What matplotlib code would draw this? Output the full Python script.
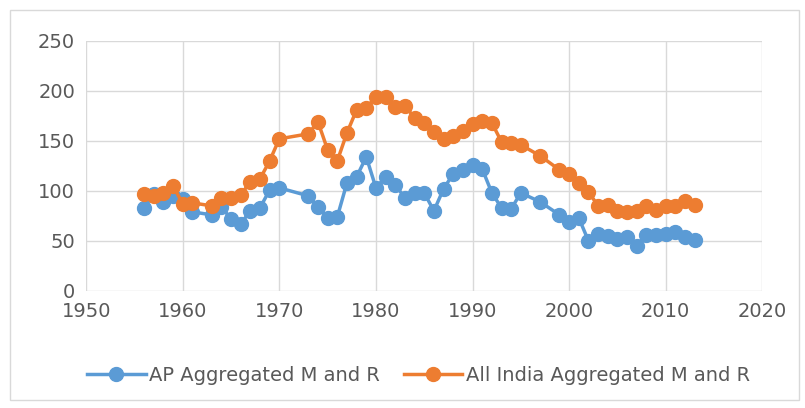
import matplotlib.pyplot as plt
from matplotlib.patches import Rectangle

# years shared by both series
years = [1956, 1957, 1958, 1959, 1960, 1961, 1963, 1964, 1965, 1966, 1967,
         1968, 1969, 1970, 1973, 1974, 1975, 1976, 1977, 1978, 1979, 1980,
         1981, 1982, 1983, 1984, 1985, 1986, 1987, 1988, 1989, 1990, 1991,
         1992, 1993, 1994, 1995, 1997, 1999, 2000, 2001, 2002, 2003, 2004,
         2005, 2006, 2007, 2008, 2009, 2010, 2011, 2012, 2013]

ap = [83, 97, 89, 95, 92, 79, 76, 84, 72, 67, 80,
      83, 101, 103, 95, 84, 73, 74, 108, 114, 134, 103,
      114, 106, 93, 98, 98, 80, 102, 117, 121, 126, 122,
      98, 83, 82, 98, 89, 76, 69, 73, 50, 57, 55,
      52, 54, 45, 56, 56, 57, 59, 54, 51]

india = [97, 95, 98, 105, 87, 88, 85, 93, 93, 96, 109,
         112, 130, 152, 157, 169, 141, 130, 158, 181, 183, 194,
         194, 184, 185, 173, 168, 159, 152, 155, 160, 167, 170,
         168, 149, 148, 146, 135, 121, 117, 108, 99, 85, 86,
         80, 79, 80, 85, 81, 85, 85, 90, 86]

labels = ['AP Aggregated M and R', 'All India Aggregated M and R']

fig = plt.figure(figsize=(8.05, 4.08), dpi=100)
ax = fig.add_axes([0.107, 0.287, 0.84, 0.613])

ax.plot(years, ap, color='#5B9BD5', lw=2.5, marker='o', ms=10, label=labels[0])
ax.plot(years, india, color='#ED7D31', lw=2.5, marker='o', ms=10, label=labels[1])

ax.set_xlim(1950, 2020)
ax.set_ylim(0, 250)
ax.set_xticks(range(1950, 2021, 10))
ax.set_yticks(range(0, 251, 50))
ax.grid(color='#D9D9D9', lw=1)
ax.set_axisbelow(True)
for s in ax.spines.values():
    s.set_visible(False)
ax.tick_params(length=0, labelsize=14, labelcolor='#595959', pad=8)

fig.legend(loc='center', bbox_to_anchor=(0.52, 0.08), ncol=2, frameon=False,
           fontsize=14, labelcolor='#595959', handlelength=3.0, columnspacing=1.2,
           handletextpad=0.2)

fig.patches.append(Rectangle((0.012, 0.02), 0.98, 0.955, transform=fig.transFigure,
                             fill=False, edgecolor='#D9D9D9', lw=1))

fig.savefig('out.png', dpi=100)
